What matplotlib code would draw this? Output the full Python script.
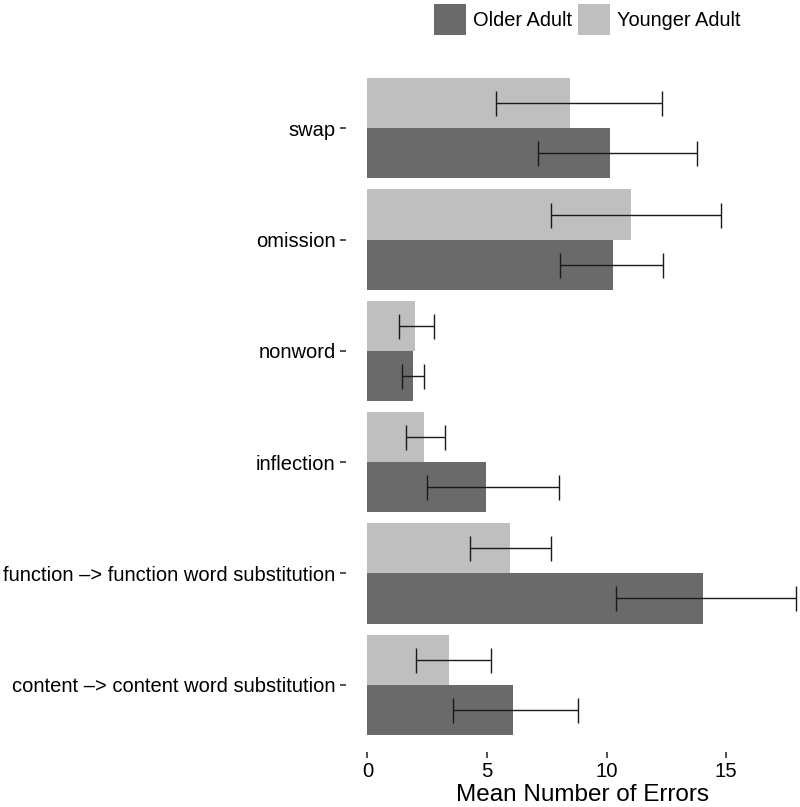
import matplotlib
matplotlib.use("Agg")
import matplotlib.pyplot as plt
import numpy as np
from matplotlib.patches import Patch

plt.rcParams['font.family'] = ['Liberation Sans', 'DejaVu Sans']

# Data (bottom to top)
categories = ["content –> content word substitution",
              "function –> function word substitution",
              "inflection", "nonword", "omission", "swap"]
older_mean = [6.07, 14.03, 4.94, 1.90, 10.25, 10.15]
older_lo   = [3.57, 10.38, 2.50, 1.45, 8.06, 7.14]
older_hi   = [8.80, 17.94, 8.02, 2.36, 12.37, 13.79]
younger_mean = [3.43, 5.96, 2.36, 1.99, 11.03, 8.45]
younger_lo   = [2.01, 4.28, 1.63, 1.30, 7.68, 5.36]
younger_hi   = [5.17, 7.68, 3.26, 2.80, 14.77, 12.31]
groups = ["Older Adult", "Younger Adult"]
colors = ["#6a6a6a", "#bfbfbf"]
xticks = [0, 5, 10, 15]

W, H = 800, 807
fig = plt.figure(figsize=(W / 100, H / 100), dpi=100)
left_px, right_px = 346, 818
top_px, bot_px = 61.5, 751.5
ax = fig.add_axes([left_px / W, 1 - bot_px / H, (right_px - left_px) / W, (bot_px - top_px) / H])

y = np.arange(len(categories))
h = 0.45
om = np.array(older_mean); ym = np.array(younger_mean)
ax.barh(y - h / 2, om, height=h, color=colors[0], edgecolor='none')
ax.barh(y + h / 2, ym, height=h, color=colors[1], edgecolor='none')

ax.errorbar(om, y - h / 2,
            xerr=[om - np.array(older_lo), np.array(older_hi) - om],
            fmt='none', ecolor='#1a1a1a', elinewidth=1.0, capsize=9, capthick=1.0)
ax.errorbar(ym, y + h / 2,
            xerr=[ym - np.array(younger_lo), np.array(younger_hi) - ym],
            fmt='none', ecolor='#1a1a1a', elinewidth=1.0, capsize=9, capthick=1.0)

ax.set_xlim(-0.897, 18.84)
ax.set_ylim(-0.6, len(categories) - 1 + 0.6)
ax.set_yticks(y)
ax.set_yticklabels(categories, fontsize=14.5, color='black')
ax.set_xticks(xticks)
ax.set_xticklabels([str(t) for t in xticks], fontsize=14.7, color='black')
ax.tick_params(axis='both', length=4.5, width=1.2, color='#333333', pad=3)
for s in ax.spines.values():
    s.set_visible(False)
ax.set_xlabel("Mean Number of Errors", fontsize=17.5, labelpad=2)

handles = [Patch(facecolor=c, edgecolor='none') for c in colors]
fig.legend(handles, groups, loc='upper center', bbox_to_anchor=(587 / W, 1.006),
           ncol=2, frameon=False, fontsize=14.4, handlelength=1.6, handleheight=2.0,
           handletextpad=0.35, columnspacing=0.3, borderaxespad=0.05)

fig.savefig("out.png", dpi=100)
